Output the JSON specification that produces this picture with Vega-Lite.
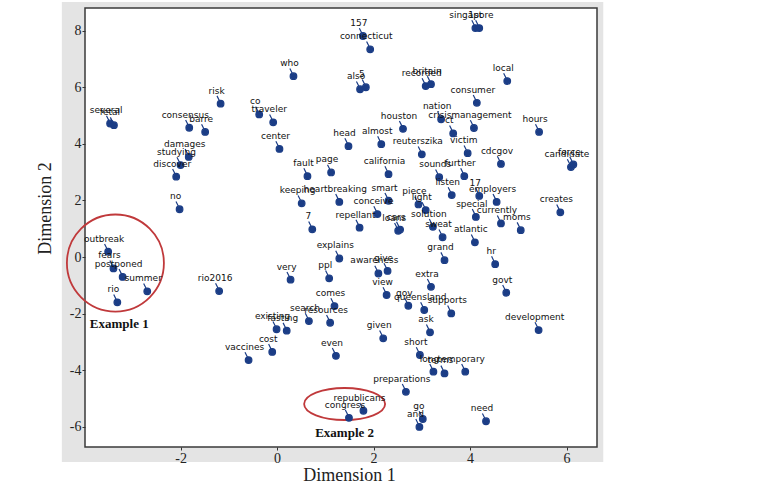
{
  "$schema": "https://vega.github.io/schema/vega-lite/v6.json",
  "width": 512,
  "height": 439,
  "autosize": "none",
  "padding": {"left": 85, "top": 8, "right": 171, "bottom": 40},
  "background": "white",
  "config": {"view": {"stroke": null}},
  "layer": [
    {
      "data": {"values": [{"part": "panel"}]},
      "mark": {"type": "rect", "fill": "#e4e4e4", "clip": false},
      "encoding": {
        "x": {"datum": -4.46, "type": "quantitative", "scale": {"domain": [-3.98, 6.63], "nice": false, "zero": false},
          "axis": {"values": [-2, 0, 2, 4, 6], "grid": false, "domain": false, "tickSize": 3, "tickColor": "#333", "labelFont": "Liberation Serif", "labelFontSize": 14, "labelColor": "#222", "labelPadding": 1, "labelExpr": "'' + datum.value", "title": "Dimension 1", "titleFont": "Liberation Serif", "titleFontSize": 18, "titleFontWeight": "normal", "titleColor": "#222", "titleX": 264, "titleY": 28, "titleBaseline": "middle", "zindex": 1}},
        "x2": {"datum": 6.76},
        "y": {"datum": -7.24, "type": "quantitative", "scale": {"domain": [-6.71, 8.8], "nice": false, "zero": false},
          "axis": {"values": [-6, -4, -2, 0, 2, 4, 6, 8], "grid": false, "domain": false, "tickSize": 3, "tickColor": "#333", "labelFont": "Liberation Serif", "labelFontSize": 14, "labelColor": "#222", "labelPadding": 1, "labelExpr": "'' + datum.value", "title": "Dimension 2", "titleFont": "Liberation Serif", "titleFontSize": 18, "titleFontWeight": "normal", "titleColor": "#222", "titleX": -40, "titleY": 200, "titleAngle": 270, "titleBaseline": "middle", "zindex": 1}},
        "y2": {"datum": 9.01}
      }
    },
    {
      "data": {"values": [{"part": "plot"}]},
      "mark": {"type": "rect", "fill": "white", "stroke": "#3a3a3a", "strokeWidth": 1.5},
      "encoding": {
        "x": {"datum": -3.98, "type": "quantitative"},
        "x2": {"datum": 6.63},
        "y": {"datum": -6.71, "type": "quantitative"},
        "y2": {"datum": 8.8}
      }
    },
    {
      "data": {"values": [{"d1": -3.35, "d2": -0.21}]},
      "mark": {"type": "point", "shape": "circle", "size": 9409, "filled": false, "stroke": "#c0393b", "strokeWidth": 1.8, "opacity": 1, "clip": false},
      "encoding": {
        "x": {"field": "d1", "type": "quantitative"},
        "y": {"field": "d2", "type": "quantitative"}
      }
    },
    {
      "data": {"values": [{"d1": 1.40, "d2": -5.19}]},
      "mark": {"type": "point", "shape": "M-1,0A1,0.395 0 1,1 1,0A1,0.395 0 1,1 -1,0Z", "size": 6561, "filled": false, "stroke": "#c0393b", "strokeWidth": 1.8, "opacity": 1},
      "encoding": {
        "x": {"field": "d1", "type": "quantitative"},
        "y": {"field": "d2", "type": "quantitative"}
      }
    },
    {
      "data": {"name": "words"},
      "mark": {"type": "point", "shape": "M-0.55,0A0.55,0.55 0 1,0 0.55,0A0.55,0.55 0 1,0 -0.55,0ZM-0.2,-0.5L-0.6,-1.3", "size": 144, "filled": true, "fill": "#1b3d86", "stroke": "#1b3d86", "strokeWidth": 1.2, "opacity": 1},
      "encoding": {
        "x": {"field": "d1", "type": "quantitative"},
        "y": {"field": "d2", "type": "quantitative"}
      }
    },
    {
      "data": {"name": "words"},
      "mark": {"type": "text", "font": "DejaVu Sans", "fontSize": 9, "color": "#111", "dx": -4, "dy": -13, "align": "center", "baseline": "middle"},
      "encoding": {
        "x": {"field": "d1", "type": "quantitative"},
        "y": {"field": "d2", "type": "quantitative"},
        "text": {"field": "word"}
      }
    },
    {
      "data": {"values": [{"label": "Example 1", "d1": -3.88, "d2": -2.37}, {"label": "Example 2", "d1": 0.79, "d2": -6.22}]},
      "mark": {"type": "text", "font": "Liberation Serif", "fontSize": 13, "fontWeight": "bold", "color": "#111", "align": "left", "baseline": "middle"},
      "encoding": {
        "x": {"field": "d1", "type": "quantitative"},
        "y": {"field": "d2", "type": "quantitative"},
        "text": {"field": "label"}
      }
    }
  ],
  "datasets": {
    "words": [
      {"word": "several", "d1": -3.46, "d2": 4.72},
      {"word": "fetal", "d1": -3.38, "d2": 4.66},
      {"word": "consensus", "d1": -1.82, "d2": 4.57},
      {"word": "barre", "d1": -1.49, "d2": 4.42},
      {"word": "risk", "d1": -1.17, "d2": 5.42},
      {"word": "co", "d1": -0.37, "d2": 5.04},
      {"word": "traveler", "d1": -0.08, "d2": 4.76},
      {"word": "center", "d1": 0.05, "d2": 3.82},
      {"word": "who", "d1": 0.34, "d2": 6.39},
      {"word": "damages", "d1": -1.83, "d2": 3.54},
      {"word": "studying", "d1": -2.0, "d2": 3.25},
      {"word": "discover", "d1": -2.09, "d2": 2.84},
      {"word": "no", "d1": -2.02, "d2": 1.69},
      {"word": "outbreak", "d1": -3.5, "d2": 0.19},
      {"word": "fears", "d1": -3.39, "d2": -0.4},
      {"word": "postponed", "d1": -3.2, "d2": -0.7},
      {"word": "summer", "d1": -2.69, "d2": -1.21},
      {"word": "rio", "d1": -3.31, "d2": -1.6},
      {"word": "rio2016", "d1": -1.2, "d2": -1.2},
      {"word": "very", "d1": 0.28, "d2": -0.8},
      {"word": "157", "d1": 1.78, "d2": 7.81},
      {"word": "connecticut", "d1": 1.93, "d2": 7.34},
      {"word": "singapore", "d1": 4.11, "d2": 8.09},
      {"word": "1st", "d1": 4.19, "d2": 8.09},
      {"word": "also", "d1": 1.72, "d2": 5.93},
      {"word": "5", "d1": 1.84, "d2": 6.0},
      {"word": "recorded", "d1": 3.08, "d2": 6.04},
      {"word": "britain", "d1": 3.19, "d2": 6.11},
      {"word": "local", "d1": 4.77, "d2": 6.22},
      {"word": "consumer", "d1": 4.14, "d2": 5.45},
      {"word": "nation", "d1": 3.4, "d2": 4.87},
      {"word": "crisismanagement", "d1": 4.08, "d2": 4.56},
      {"word": "houston", "d1": 2.61, "d2": 4.53},
      {"word": "ct", "d1": 3.65, "d2": 4.37},
      {"word": "hours", "d1": 5.43, "d2": 4.42},
      {"word": "head", "d1": 1.48, "d2": 3.92},
      {"word": "almost", "d1": 2.16, "d2": 3.99},
      {"word": "reuterszika", "d1": 3.0, "d2": 3.63},
      {"word": "victim", "d1": 3.95, "d2": 3.67},
      {"word": "cdcgov", "d1": 4.64, "d2": 3.29},
      {"word": "candidate", "d1": 6.09, "d2": 3.18},
      {"word": "force", "d1": 6.14, "d2": 3.27},
      {"word": "fault", "d1": 0.63, "d2": 2.86},
      {"word": "page", "d1": 1.12, "d2": 2.99},
      {"word": "california", "d1": 2.31, "d2": 2.93},
      {"word": "sounds", "d1": 3.36, "d2": 2.82},
      {"word": "further", "d1": 3.88, "d2": 2.86},
      {"word": "listen", "d1": 3.62, "d2": 2.19},
      {"word": "17", "d1": 4.19, "d2": 2.16},
      {"word": "employers", "d1": 4.55, "d2": 1.95},
      {"word": "heartbreaking", "d1": 1.29, "d2": 1.95},
      {"word": "keeping", "d1": 0.51, "d2": 1.9},
      {"word": "smart", "d1": 2.31, "d2": 1.99},
      {"word": "piece", "d1": 2.93, "d2": 1.86},
      {"word": "light", "d1": 3.08, "d2": 1.66},
      {"word": "conceive", "d1": 2.08, "d2": 1.52},
      {"word": "special", "d1": 4.12, "d2": 1.42},
      {"word": "creates", "d1": 5.87, "d2": 1.58},
      {"word": "currently", "d1": 4.64, "d2": 1.19},
      {"word": "moms", "d1": 5.05, "d2": 0.95},
      {"word": "7", "d1": 0.73, "d2": 0.98},
      {"word": "repellant", "d1": 1.71, "d2": 1.04},
      {"word": "loans", "d1": 2.51, "d2": 0.93},
      {"word": "cars", "d1": 2.55, "d2": 0.97},
      {"word": "solution", "d1": 3.23, "d2": 1.07},
      {"word": "sweat", "d1": 3.43, "d2": 0.7},
      {"word": "atlantic", "d1": 4.1, "d2": 0.52},
      {"word": "explains", "d1": 1.29, "d2": -0.05},
      {"word": "grand", "d1": 3.47, "d2": -0.11},
      {"word": "hr", "d1": 4.52, "d2": -0.25},
      {"word": "awareness", "d1": 2.1, "d2": -0.58},
      {"word": "give", "d1": 2.29, "d2": -0.49},
      {"word": "ppl", "d1": 1.08, "d2": -0.75},
      {"word": "govt", "d1": 4.75, "d2": -1.26},
      {"word": "extra", "d1": 3.19, "d2": -1.05},
      {"word": "view", "d1": 2.27, "d2": -1.34},
      {"word": "comes", "d1": 1.19, "d2": -1.73},
      {"word": "gov", "d1": 2.72, "d2": -1.72},
      {"word": "queensland", "d1": 3.05, "d2": -1.87},
      {"word": "supports", "d1": 3.61, "d2": -1.99},
      {"word": "search", "d1": 0.66, "d2": -2.26},
      {"word": "resources", "d1": 1.1, "d2": -2.32},
      {"word": "existing", "d1": -0.01, "d2": -2.55},
      {"word": "fasting", "d1": 0.2, "d2": -2.6},
      {"word": "development", "d1": 5.42, "d2": -2.58},
      {"word": "ask", "d1": 3.17, "d2": -2.66},
      {"word": "given", "d1": 2.2, "d2": -2.87},
      {"word": "cost", "d1": -0.1, "d2": -3.35},
      {"word": "vaccines", "d1": -0.59, "d2": -3.64},
      {"word": "even", "d1": 1.22, "d2": -3.49},
      {"word": "short", "d1": 2.96, "d2": -3.46},
      {"word": "long", "d1": 3.24, "d2": -4.05},
      {"word": "terms", "d1": 3.47, "d2": -4.11},
      {"word": "temporary", "d1": 3.9, "d2": -4.05},
      {"word": "preparations", "d1": 2.67, "d2": -4.76},
      {"word": "republicans", "d1": 1.79, "d2": -5.43},
      {"word": "congress", "d1": 1.49, "d2": -5.68},
      {"word": "go", "d1": 3.02, "d2": -5.72},
      {"word": "and", "d1": 2.95, "d2": -6.0},
      {"word": "need", "d1": 4.33, "d2": -5.8}
    ]
  }
}
